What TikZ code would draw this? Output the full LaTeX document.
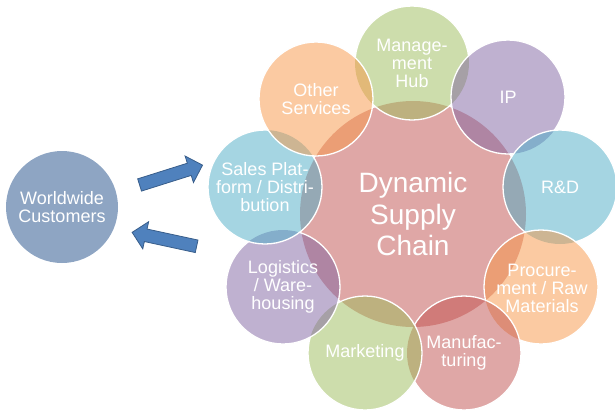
\documentclass[tikz,border=0pt]{standalone}
\usepackage{fontspec}
\setmainfont{Liberation Sans}
\usetikzlibrary{shapes.arrows}
\definecolor{cred}{HTML}{C0504D}
\definecolor{cgreen}{HTML}{9BBB59}
\definecolor{cpurple}{HTML}{8064A2}
\definecolor{cblue}{HTML}{4BACC6}
\definecolor{corange}{HTML}{F79646}
\definecolor{wwblue}{HTML}{8EA5C3}
\definecolor{arrowblue}{HTML}{4F81BD}
\definecolor{arrowborder}{HTML}{385D8A}
\begin{document}
\begin{tikzpicture}[x=1bp,y=-1bp,
  sat/.style={circle, minimum size=114bp, inner sep=0pt, fill opacity=0.5},
  rim/.style={white, line width=1.3bp},
  txt/.style={text=white, align=center, inner sep=0pt, font=\fontsize{18bp}{18bp}\selectfont},
  bigtxt/.style={text=white, align=center, inner sep=0pt, font=\fontsize{28bp}{31.5bp}\selectfont},
  bluearrow/.style={single arrow, single arrow head extend=7.5bp,
     inner xsep=0pt, inner ysep=6bp, fill=arrowblue, draw=arrowborder, line width=0.8bp, minimum height=66bp}]
\useasboundingbox (0,0) rectangle (615,412);
\def\R{57bp}
% central circle
\node[circle, minimum size=226bp, inner sep=0pt, fill=cred, fill opacity=0.5] (core) at (413,214) {};
% satellites, clockwise from top
\node[sat, fill=cgreen]  (mgmt)  at (412,63) {};
\begin{scope}[even odd rule]
  \clip (-10,-10) rectangle (625,422) (508,97) circle[radius=\R] (316,99) circle[radius=\R];
  \draw[rim] (mgmt.center) circle[radius=\R];
\end{scope}
\node[sat, fill=cpurple] (ip)    at (508,97) {};
\begin{scope}[even odd rule]
  \clip (-10,-10) rectangle (625,422) (560,187) circle[radius=\R];
  \draw[rim] (ip.center) circle[radius=\R];
\end{scope}
\node[sat, fill=cblue]   (rd)    at (560,187) {};
\begin{scope}[even odd rule]
  \clip (-10,-10) rectangle (625,422) (541,287) circle[radius=\R];
  \draw[rim] (rd.center) circle[radius=\R];
\end{scope}
\node[sat, fill=corange] (proc)  at (541,287) {};
\begin{scope}[even odd rule]
  \clip (-10,-10) rectangle (625,422) (464,353) circle[radius=\R];
  \draw[rim] (proc.center) circle[radius=\R];
\end{scope}
\node[sat, fill=cred]    (manu)  at (464,353) {};
\begin{scope}[even odd rule]
  \clip (-10,-10) rectangle (625,422) (365,353) circle[radius=\R];
  \draw[rim] (manu.center) circle[radius=\R];
\end{scope}
\node[sat, fill=cgreen]  (mark)  at (365,353) {};
\begin{scope}[even odd rule]
  \clip (-10,-10) rectangle (625,422) (283,287) circle[radius=\R];
  \draw[rim] (mark.center) circle[radius=\R];
\end{scope}
\node[sat, fill=cpurple] (logi)  at (283,287) {};
\begin{scope}[even odd rule]
  \clip (-10,-10) rectangle (625,422) (265,187) circle[radius=\R];
  \draw[rim] (logi.center) circle[radius=\R];
\end{scope}
\node[sat, fill=cblue]   (sales) at (265,187) {};
\begin{scope}[even odd rule]
  \clip (-10,-10) rectangle (625,422) (316,99) circle[radius=\R];
  \draw[rim] (sales.center) circle[radius=\R];
\end{scope}
\node[sat, fill=corange] (other) at (316,99) {};
\draw[rim] (other.center) circle[radius=\R];
% texts
\node[bigtxt] (core-t) at (core.center) {Dynamic\\Supply\\Chain};
\node[txt] (mgmt-t)  at (mgmt.center)  {Manage-\\ment\\Hub};
\node[txt] (ip-t)    at (ip.center)    {IP};
\node[txt] (rd-t)    at (rd.center)    {R\&D};
\node[txt] (proc-t)  at (542,288)      {Procure-\\ment / Raw\\Materials};
\node[txt] (manu-t)  at (manu.center)  {Manufac-\\turing};
\node[txt] (mark-t)  at (mark.center)  {Marketing};
\node[txt] (logi-t)  at (logi.center)  {Logistics\\/ Ware-\\housing};
\node[txt] (sales-t) at (sales.center) {Sales Plat-\\form / Distri-\\bution};
\node[txt] (other-t) at (other.center) {Other\\Services};
% worldwide customers
\node[circle, minimum size=112bp, inner sep=0pt, fill=wwblue] (world) at (62,207) {};
\node[txt] (world-t) at (world.center) {Worldwide\\Customers};
% block arrows
\node[bluearrow, rotate=17.5]  (arrowout) at (168,176) {};
\node[bluearrow, rotate=167.8] (arrowin)  at (167.5,240) {};
\end{tikzpicture}
\end{document}
